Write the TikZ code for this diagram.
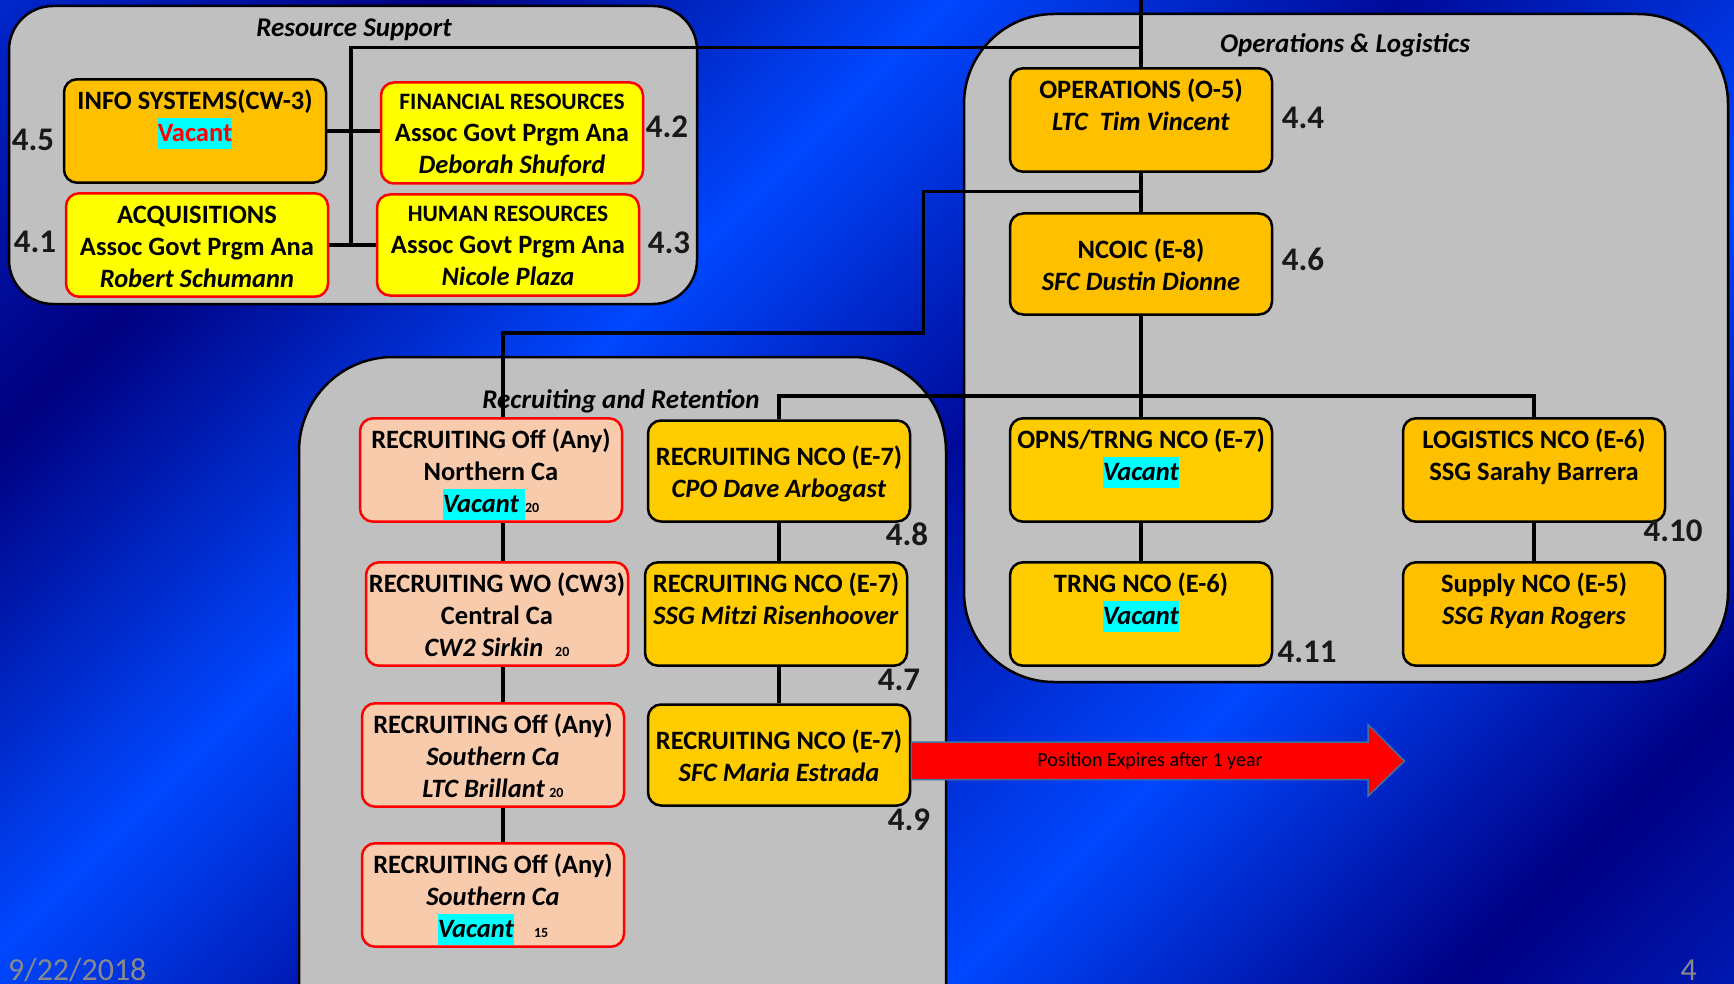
\documentclass[tikz,border=0pt]{standalone}
\usepackage{fontspec}
\setmainfont{Carlito}
\usetikzlibrary{calc}
\definecolor{panelgray}{RGB}{192,192,192}
\definecolor{boxorange}{RGB}{255,192,0}
\definecolor{boxgold}{RGB}{255,204,0}
\definecolor{boxyellow}{RGB}{255,255,0}
\definecolor{boxsalmon}{RGB}{248,203,173}
\definecolor{hlcyan}{RGB}{0,255,255}
\definecolor{footgray}{RGB}{138,138,138}
\definecolor{arrowedge}{RGB}{65,113,156}
% diagonal bands of the slide background, measured along x+y
\pgfdeclarehorizontalshading{slidebg}{1922bp}{rgb(0bp)=(0,.15,.8); rgb(311bp)=(0,0,.5); rgb(672bp)=(0,.28,1); rgb(990bp)=(0,.04,.6); rgb(1365bp)=(0,.28,1); rgb(1718bp)=(0,0,.52); rgb(1922bp)=(0,.1,.7)}
\newcommand{\hl}[1]{{\setlength{\fboxsep}{0pt}\colorbox{hlcyan}{\rule[-8pt]{0pt}{31pt}#1}}}
\newcommand{\sm}[1]{{\fontsize{14}{14}\selectfont #1}}
\newcommand{\dept}[1]{\rule{0pt}{25.8pt}{\fontsize{23.5}{32}\selectfont #1}}
\newcommand{\hd}{\rule{0pt}{29.8pt}}
\tikzset{
  unit/.style={draw, rounded corners=13pt, line width=2.5pt, minimum width=262pt,
    minimum height=101pt, inner sep=0pt, align=center,
    font=\bfseries\fontsize{26.5}{32}\selectfont, execute at end node=\strut},
  staff/.style={unit, fill=boxorange},
  nco/.style={unit, fill=boxgold},
  civ/.style={unit, fill=boxyellow, draw=red},
  rec/.style={unit, fill=boxsalmon, draw=red},
  panel/.style={draw, fill=panelgray, line width=2.5pt},
  link/.style={line width=3.5pt},
  num/.style={font=\bfseries\fontsize{33}{33}\selectfont, text=black!90},
  heading/.style={font=\bfseries\itshape\fontsize{27}{27}\selectfont},
}
\begin{document}
\begin{tikzpicture}[x=1pt,y=-1pt]
        \useasboundingbox (0,0) rectangle (1734,984);
        \clip (0,0) rectangle (1734,984);
        \node[rotate=-45, inner sep=0pt] (bg) at (867,492) {\pgfuseshading{slidebg}};
        % panels
        \draw[panel, rounded corners=44pt] (9,6) rectangle (697,304);
        \draw[panel, rounded corners=90pt] (964,14) rectangle (1728,682);
        \draw[panel, rounded corners=94pt] (299,357) rectangle (946,1080);
        \node[heading] (rstitle) at (354,30) {Resource Support};
        \node[heading] (oltitle) at (1345,45) {Operations \& Logistics};
        \node[heading] (rrtitle) at (621,401) {Recruiting and Retention};
        % resource support
        \node[staff] (info) at (195,131) {\hd INFO SYSTEMS(CW-3)\\\hl{\textcolor{red}{Vacant}}\\};
        \node[civ] (fin) at (512,133) {\dept{FINANCIAL RESOURCES}\\Assoc Govt Prgm Ana\\\textit{Deborah Shuford}};
        \node[civ] (acq) at (197,245) {\hd ACQUISITIONS\\Assoc Govt Prgm Ana\\\textit{Robert Schumann}};
        \node[civ] (hr) at (508,245) {\dept{HUMAN RESOURCES}\\Assoc Govt Prgm Ana\\\textit{Nicole Plaza}};
        % operations and logistics
        \node[staff] (oper) at (1141,120) {\hd OPERATIONS (O-5)\\\textit{LTC\ \ Tim Vincent}\\};
        \node[staff] (ncoic) at (1141,264) {\hd NCOIC (E-8)\\\textit{SFC Dustin Dionne}};
        \node[nco] (opns) at (1141,470) {\hd OPNS/TRNG NCO (E-7)\\\hl{\textit{Vacant}}\\};
        \node[nco] (trng) at (1141,614) {\hd TRNG NCO (E-6)\\\hl{\textit{Vacant}}\\};
        \node[staff] (logi) at (1534,470) {\hd LOGISTICS NCO (E-6)\\SSG Sarahy Barrera\\};
        \node[staff] (supply) at (1534,614) {\hd Supply NCO (E-5)\\\textit{SSG Ryan Rogers}\\};
        % recruiting and retention
        \node[rec] (ro1) at (491,470) {\hd RECRUITING Off (Any)\\Northern Ca\\\hl{\textit{Vacant}\ }\sm{20}};
        \node[rec] (rwo) at (497,614) {\hd RECRUITING WO (CW3)\\Central Ca\\\textit{CW2 Sirkin}\ \ \sm{20}};
        \node[rec] (ro3) at (493,755) {\hd RECRUITING Off (Any)\\\textit{Southern Ca}\\\textit{LTC Brillant}\,\sm{20}};
        \node[rec] (ro4) at (493,895) {\hd RECRUITING Off (Any)\\\textit{Southern Ca}\\\hl{\textit{Vacant}}\hspace{20pt}\sm{15}};
        \node[nco] (rnco1) at (779,471) {\hd RECRUITING NCO (E-7)\\\textit{CPO Dave Arbogast}};
        \node[nco] (rnco2) at (776,614) {\hd RECRUITING NCO (E-7)\\\textit{SSG Mitzi Risenhoover}\\};
        \node[nco] (rnco3) at (779,755) {\hd RECRUITING NCO (E-7)\\\textit{SFC Maria Estrada}};
        % connectors
        \coordinate (top) at (1141,0);
        \coordinate (rsjoin) at (1141,47.6);
        \coordinate (rsdrop) at (351,244.4);
        \coordinate (rrjoin) at (1141,191.3);
        \coordinate (rrbend) at (923.4,332.9);
        \coordinate (rrx) at (503,0);
        \coordinate (ncobus) at (1141,395.9);
        \draw[link] (top) -- (oper);
        \draw[link] (rsjoin) -| (rsdrop);
        \draw[link] (info.east) -- (info.east -| fin.west);
        \draw[link] (acq.east) -- (acq.east -| hr.west);
        \draw[link] (oper) -- (ncoic);
        \draw[link] (rrjoin) -| (rrbend) -| (ro1.north -| rrx);
        \draw[link] (ncoic) -- (opns);
        \draw[link] (rnco1.north) |- (ncobus) -| (logi.north);
        \draw[link] (opns) -- (trng);
        \draw[link] (logi) -- (supply);
        \draw[link] (ro1.south -| rrx) -- (rwo.north -| rrx);
        \draw[link] (rwo.south -| rrx) -- (ro3.north -| rrx);
        \draw[link] (ro3.south -| rrx) -- (ro4.north -| rrx);
        \draw[link] (rnco1.south) -- (rnco1.south |- rnco2.north);
        \draw[link] (rnco2.south -| rnco1.south) -- (rnco3.north);
        % position numbers
        \node[num] (n45) at (33,140) {4.5};
        \node[num] (n42) at (667,127) {4.2};
        \node[num] (n41) at (35,242) {4.1};
        \node[num] (n43) at (669,243) {4.3};
        \node[num] (n44) at (1303,118) {4.4};
        \node[num] (n46) at (1303,259) {4.6};
        \node[num] (n48) at (907,534) {4.8};
        \node[num] (n47) at (899,680) {4.7};
        \node[num] (n49) at (909,820) {4.9};
        \node[num] (n410) at (1673,531) {4.10};
        \node[num] (n411) at (1307,652) {4.11};
        % expiry arrow
        \coordinate (tail) at (rnco3.east);
        \draw[fill=red, draw=arrowedge, line width=1.5pt] (911.3,742) -- (1368,742) -- (1368,724.4)
          -- (1404.5,761) -- (1368,796.2) -- (1368,779.7) -- (tail |- 0,779.7) -- cycle;
        \node[font=\fontsize{20}{20}\selectfont] (expiry) at (1150,761) {Position Expires after 1 year};
        % footer
        \node[anchor=base west, inner sep=0pt, text=footgray, font=\fontsize{32}{32}\selectfont] (date) at (8,980) {9/22/2018};
        \node[anchor=base east, inner sep=0pt, text=footgray, font=\fontsize{32}{32}\selectfont] (page) at (1697,980) {4};
\end{tikzpicture}
\end{document}
